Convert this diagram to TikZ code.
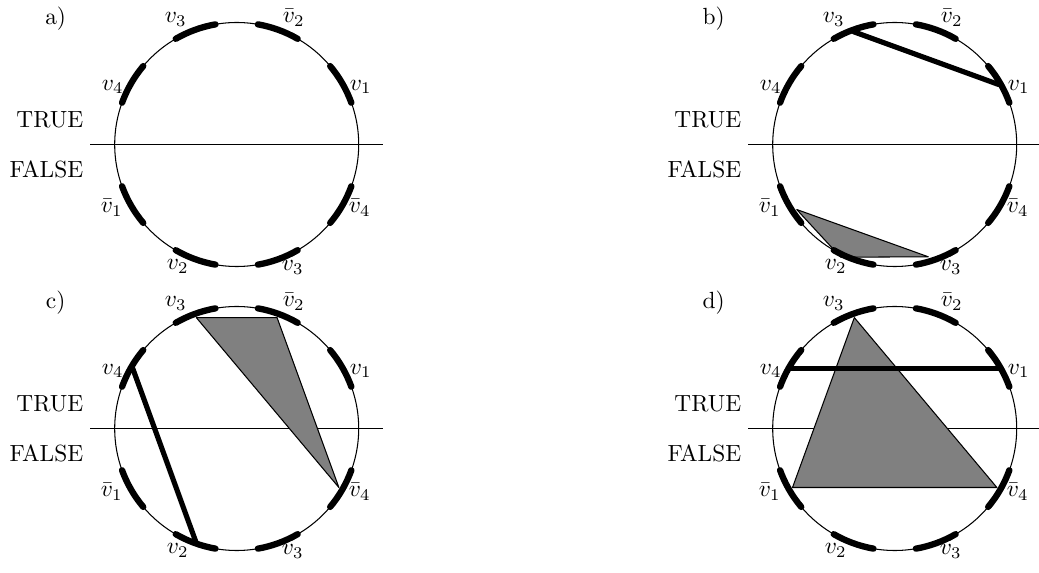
\documentclass[tikz,border=0pt]{standalone}
\usetikzlibrary{calc}
\newcommand\drawpanelbase[2]{%
  \coordinate (#1c) at (0,0);
  \draw[thinline] (#1c) circle[radius=122];
  \coordinate (#1L) at (-146.7,0);
  \coordinate (#1R) at (146.5,0);
  \draw[thinline] (#1L) -- (#1R);
  \node[lbl] (#1tag) at (-181,120) {#2)};
  \node[lbl,anchor=base east] (#1true) at (-153.4,16.7) {TRUE};
  \node[lbl,anchor=base east] (#1false) at (-153.4,-33.3) {FALSE};
  \node[lbl] (#1v3) at (-61,121.7) {$v_3$};
  \node[lbl] (#1nv2) at (57,121.7) {$\bar{v}_2$};
  \node[lbl] (#1v1) at (124,54.3) {$v_1$};
  \node[lbl] (#1v4) at (-124,54.3) {$v_4$};
  \node[lbl] (#1nv1) at (-125,-68.3) {$\bar{v}_1$};
  \node[lbl] (#1nv4) at (123,-68.3) {$\bar{v}_4$};
  \node[lbl] (#1v2) at (-59,-125) {$v_2$};
  \node[lbl] (#1nv3) at (56,-126) {$\bar{v}_3$};
}
\newcommand\drawliterals[1]{%
  \foreach \a in {30,70,110,150,210,250,290,330} {
    \draw[litstyle] ($(#1c)+(\a-10:122)$) arc[start angle=\a-10, end angle=\a+10, radius=122];
  }
}
\begin{document}
\begin{tikzpicture}[x=0.4274pt,y=0.4274pt,
  thinline/.style={line width=0.45pt},
  litstyle/.style={line width=2.7pt,line cap=round},
  chordstyle/.style={line width=2.2pt,line cap=round,line join=round},
  clausestyle/.style={fill=gray,draw=black,line width=0.45pt,line join=round},
  lbl/.style={anchor=base,inner sep=0pt,outer sep=0pt}]
\useasboundingbox (0,0) rectangle (1039,572);
% panel a
\begin{scope}[shift={(236.7,427.5)}]
  \drawpanelbase{a}{a}
  \drawliterals{a}
\end{scope}
% panel b
\begin{scope}[shift={(894.7,427.5)}]
  \drawpanelbase{b}{b}
  \coordinate (bA) at (-98,-65);
  \coordinate (bB) at (-54,-112.7);
  \coordinate (bC) at (33.6,-112.3);
  \draw[clausestyle] (bA) -- (bB) -- (bC) -- cycle;
  \drawliterals{b}
  \coordinate (bP3) at (110:120);
  \coordinate (bP1) at (30:120);
  \draw[chordstyle] (bP3) -- (bP1);
\end{scope}
% panel c
\begin{scope}[shift={(236.7,143.5)}]
  \drawpanelbase{c}{c}
  \coordinate (cA) at (110:118);
  \coordinate (cB) at (70:118);
  \coordinate (cC) at (-30:118);
  \draw[clausestyle] (cA) -- (cB) -- (cC) -- cycle;
  \drawliterals{c}
  \coordinate (cP4) at (150:120);
  \coordinate (cP2) at (250:120);
  \draw[chordstyle] (cP4) -- (cP2);
\end{scope}
% panel d
\begin{scope}[shift={(894.7,143.5)}]
  \drawpanelbase{d}{d}
  \coordinate (dA) at (110:118);
  \coordinate (dB) at (210:118);
  \coordinate (dC) at (330:118);
  \draw[clausestyle] (dA) -- (dB) -- (dC) -- cycle;
  \drawliterals{d}
  \coordinate (dP4) at (150:120);
  \coordinate (dP1) at (30:120);
  \draw[chordstyle] (dP4) -- (dP1);
\end{scope}
\end{tikzpicture}
\end{document}
